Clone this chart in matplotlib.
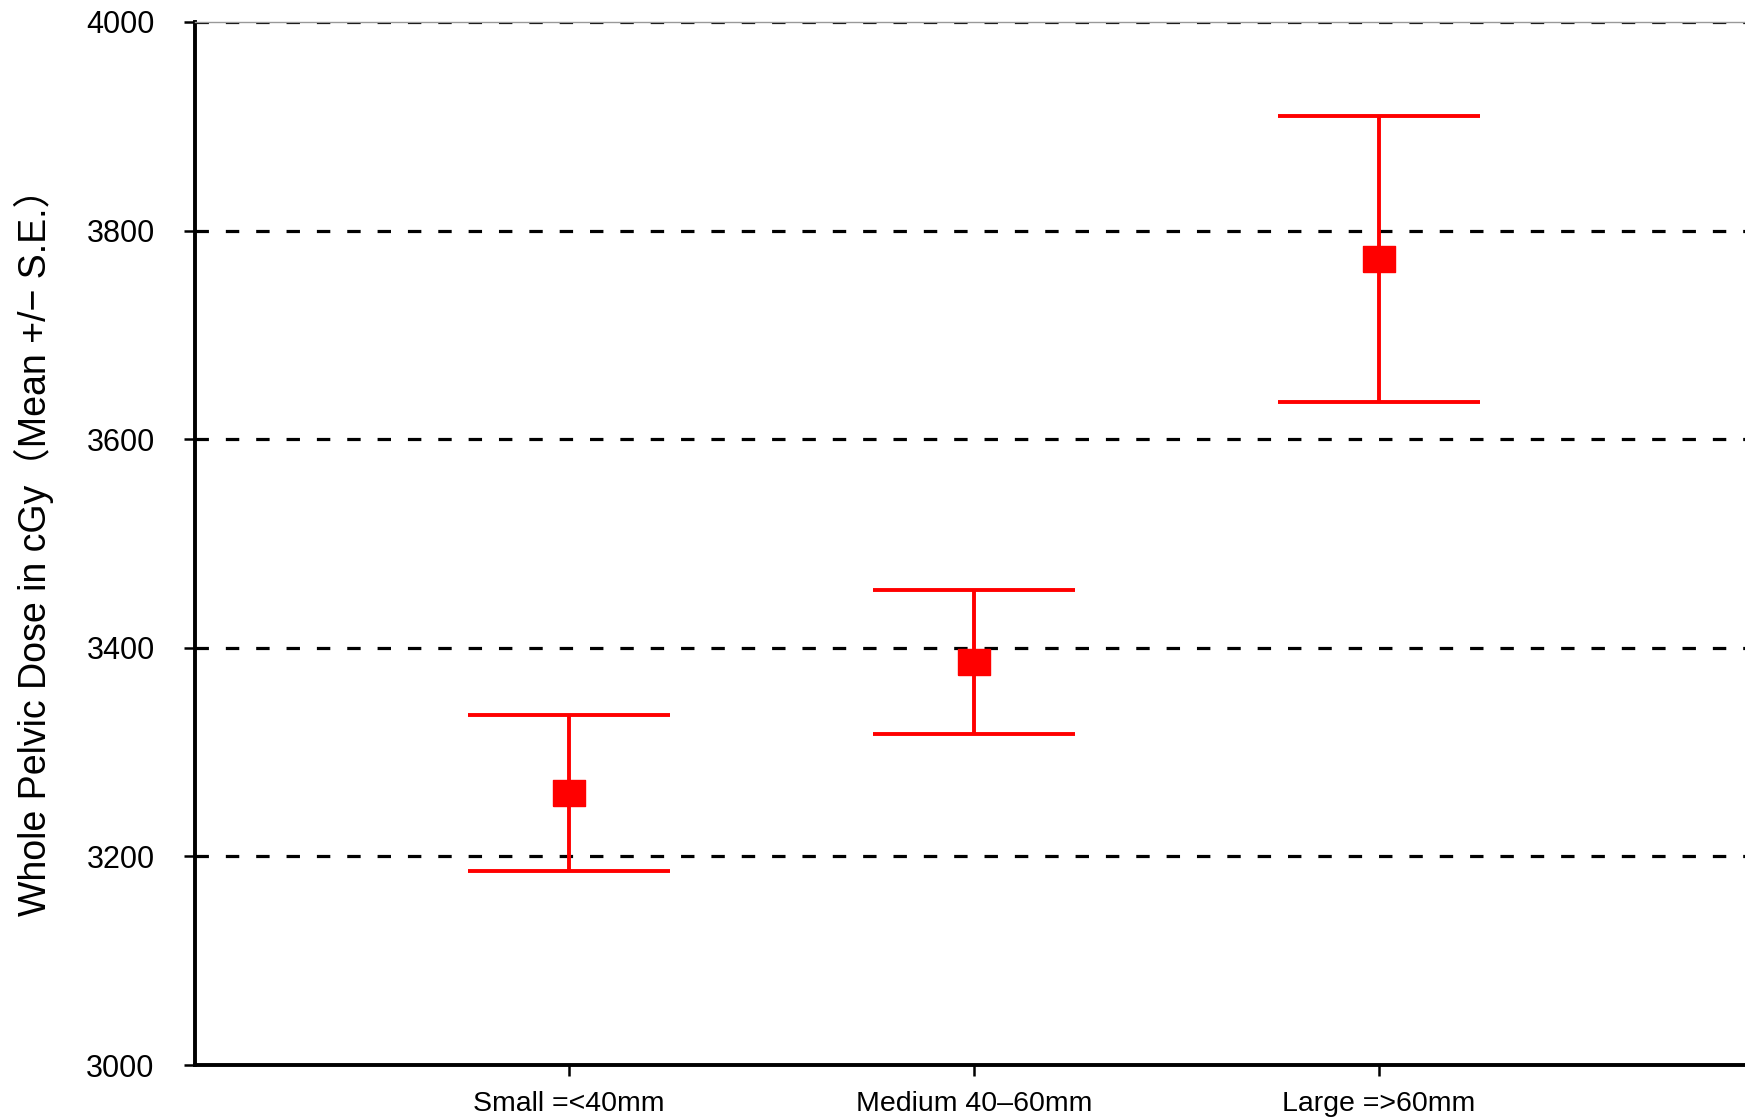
import matplotlib
matplotlib.use('Agg')
import matplotlib.pyplot as plt

# tumour size groups and whole pelvic dose (mean +/- S.E.)
categories = ['Small =<40mm', 'Medium 40\u201360mm', 'Large =>60mm']
positions = [1, 2, 3]
mean_dose = [3261, 3386, 3773]
se_dose = [75, 69, 137]

y_ticks = [3000, 3200, 3400, 3600, 3800, 4000]
y_label = 'Whole Pelvic Dose in cGy\uff08Mean +/\u2212 S.E.\uff09'

plt.rcParams['font.family'] = ['Liberation Sans', 'Noto Sans CJK JP', 'DejaVu Sans']

fig = plt.figure(figsize=(17.45, 11.2), dpi=100)
ax = fig.add_axes([0.1117, 0.0491, 0.8883, 0.9313])

# dashed horizontal gridlines
for yv in y_ticks[1:]:
    ax.axhline(yv, color='black', lw=2.3, linestyle=(0, (4.2, 5.3)), zorder=1)

rect = [(-1, -0.8), (1, -0.8), (1, 0.8), (-1, 0.8), (-1, -0.8)]
ax.errorbar(positions, mean_dose, yerr=se_dose, fmt='none', ecolor='#ff0000',
            elinewidth=2.8, capsize=73, capthick=2.8, zorder=3)
ax.plot(positions, mean_dose, linestyle='none', marker=rect, markersize=23,
        color='#ff0000', zorder=4)

ax.set_xlim(0.0765, 3.904)
ax.set_ylim(3000, 4000)
ax.set_xticks(positions)
ax.set_xticklabels(categories)
ax.set_yticks(y_ticks)

ax.spines['right'].set_visible(False)
ax.spines['top'].set_color('#999999')
ax.spines['top'].set_linewidth(1.0)
ax.spines['left'].set_linewidth(2.8)
ax.spines['bottom'].set_linewidth(2.8)

ax.tick_params(axis='y', direction='out', length=8, width=1.8, pad=21, labelsize=22)
ax.tick_params(axis='x', direction='out', length=8, width=1.8, pad=11, labelsize=20.5)

ax.set_ylabel(y_label, fontsize=27, labelpad=23)

fig.savefig('out.png', dpi=100)
